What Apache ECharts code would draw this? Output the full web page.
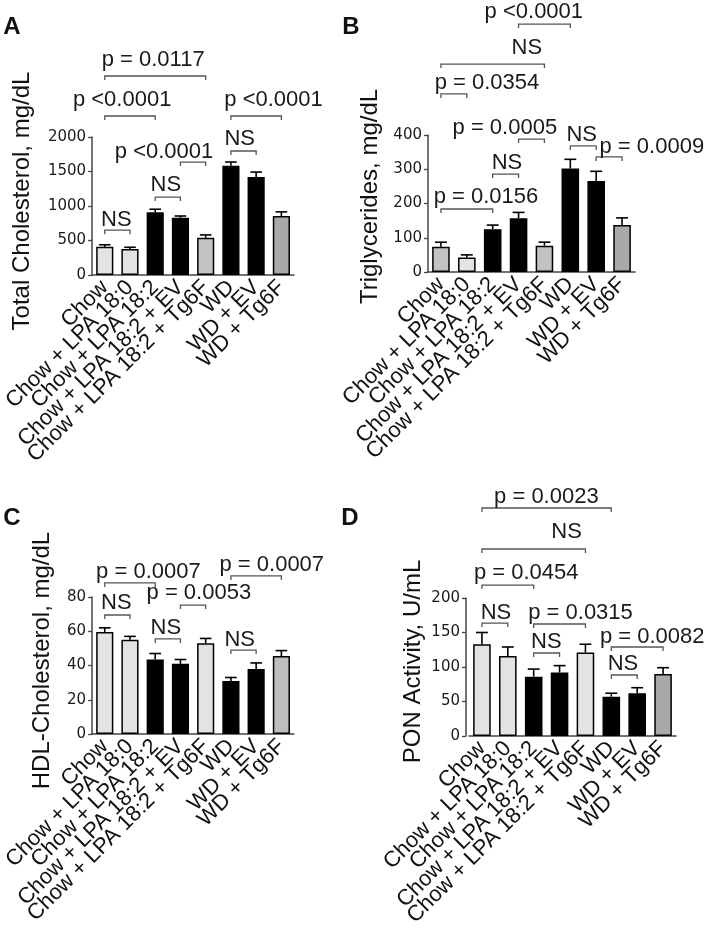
<!DOCTYPE html>
<html><head><meta charset="utf-8">
<script src="https://cdn.jsdelivr.net/npm/echarts@6/dist/echarts.min.js"></script>
<style>html,body{margin:0;padding:0;background:#fff}#c{width:711px;height:930px}</style>
</head><body><div id="c"></div>
<script>
const categories = ["Chow", "Chow + LPA 18:0", "Chow + LPA 18:2", "Chow + LPA 18:2 + EV", "Chow + LPA 18:2 + Tg6F", "WD", "WD + EV", "WD + Tg6F"];

// A: Total cholesterol (mg/dL)
const tcMean = [408, 377, 908, 830, 541, 1582, 1422, 855];
const tcSem  = [30, 25, 45, 25, 40, 55, 70, 60];
const tcTicks = [0, 500, 1000, 1500, 2000];
// brackets: [fromIdx, toIdx, bracketLevel, labelIdx, labelLevel, text]
const tcBrackets = [
  [0, 1, 650, 0.46, 797, "NS"],
  [2, 3, 1130, 2.42, 1304, "NS"],
  [3, 4, 1637, 2.35, 1782, "p <0.0001"],
  [5, 6, 1797, 5.35, 1971, "NS"],
  [0, 2, 2304, 0.69, 2536, "p <0.0001"],
  [5, 7, 2304, 6.69, 2536, "p <0.0001"],
  [0, 4, 2884, 1.92, 3116, "p = 0.0117"]
];

// B: Triglycerides (mg/dL)
const tgMean = [74, 42, 125, 157, 77, 302, 266, 137];
const tgSem  = [13, 8, 12, 17, 10, 27, 28, 21];
const tgTicks = [0, 100, 200, 300, 400];
const tgBrackets = [
  [0, 2, 184, 1.74, 219, "p = 0.0156"],
  [2, 3, 286, 2.55, 318, "NS"],
  [3, 4, 388, 2.47, 420, "p = 0.0005"],
  [5, 6, 368, 5.44, 400, "NS"],
  [6, 7, 336, 8.15, 365, "p = 0.0009"],
  [0, 1, 520, 1.78, 552, "p = 0.0354"],
  [0, 4, 607, 3.32, 654, "NS"],
  [3, 5, 724, 3.59, 759, "p <0.0001"]
];

// C: HDL-cholesterol (mg/dL)
const hdlMean = [59.5, 55, 43.5, 41, 53, 31, 38, 45.5];
const hdlSem  = [2.5, 2, 3.5, 2.5, 2.8, 2, 3.5, 3.2];
const hdlTicks = [0, 20, 40, 60, 80];
const hdlBrackets = [
  [0, 1, 69.5, 0.46, 76.5, "NS"],
  [2, 3, 55.5, 2.42, 61.9, "NS"],
  [3, 4, 75.3, 3.73, 82.3, "p = 0.0053"],
  [5, 6, 49, 5.35, 54.9, "NS"],
  [0, 2, 88.2, 1.73, 94.6, "p = 0.0007"],
  [5, 7, 92.3, 6.62, 98.7, "p = 0.0007"]
];

// D: PON activity (U/mL)
const ponMean = [133, 116, 86, 92, 121, 57, 62, 90];
const ponSem  = [17, 13, 11, 10, 12, 5, 8, 9];
const ponTicks = [0, 50, 100, 150, 200];
const ponBrackets = [
  [0, 1, 163.7, 0.54, 178, "NS"],
  [2, 3, 120.3, 2.49, 136, "NS"],
  [2, 4, 162.3, 3.81, 178, "p = 0.0315"],
  [5, 6, 88.4, 5.45, 104.3, "NS"],
  [5, 7, 129, 6.58, 143.5, "p = 0.0082"],
  [0, 2, 218.8, 1.71, 236, "p = 0.0454"],
  [0, 4, 271, 3.27, 295.6, "NS"],
  [0, 5, 330.4, 2.49, 346, "p = 0.0023"]
];

const LIGHT = '#e3e3e3', MID = '#c2c2c2', DARK = '#a9a9a9', BLACK = '#000000';
const tcColors  = [LIGHT, LIGHT, BLACK, BLACK, MID, BLACK, BLACK, DARK];
const tgColors  = [MID, LIGHT, BLACK, BLACK, MID, BLACK, BLACK, DARK];
const hdlColors = [LIGHT, LIGHT, BLACK, BLACK, LIGHT, BLACK, BLACK, '#bdbdbd'];
const ponColors = [LIGHT, LIGHT, BLACK, BLACK, LIGHT, BLACK, BLACK, DARK];

const panels = [
  {grid: {left: 86, top: 137, width: 208, height: 138}, ticks: tcTicks, title: 'Total Cholesterol, mg/dL', gap: 58, shift: 10, yOff: 0, mean: tcMean, sem: tcSem, colors: tcColors, br: tcBrackets},
  {grid: {left: 428, top: 135, width: 207, height: 137}, ticks: tgTicks, title: 'Triglycerides, mg/dL', gap: 46, shift: 14, yOff: 0, mean: tgMean, sem: tgSem, colors: tgColors, br: tgBrackets},
  {grid: {left: 86, top: 597, width: 208, height: 137}, ticks: hdlTicks, title: 'HDL-Cholesterol, mg/dL', gap: 38, shift: 10, yOff: 0, mean: hdlMean, sem: hdlSem, colors: hdlColors, br: hdlBrackets},
  {grid: {left: 469, top: 598, width: 207, height: 138}, ticks: ponTicks, title: 'PON Activity, U/mL', gap: 41, shift: 11, yOff: 3, mean: ponMean, sem: ponSem, colors: ponColors, br: ponBrackets}
];

const AX = '#444';
const FONT = '"Liberation Sans", Arial, sans-serif';

function errRender(mean, sem) {
  return function (params, api) {
    const i = params.dataIndex;
    const p0 = api.coord([i, mean[i]]);
    const p1 = api.coord([i, mean[i] + sem[i]]);
    const w = api.size([1, 0])[0] * 0.23;
    return {type: 'group', children: [
      {type: 'line', shape: {x1: p0[0], y1: p0[1], x2: p1[0], y2: p1[1]}, style: {stroke: '#000', lineWidth: 1.6}},
      {type: 'line', shape: {x1: p1[0] - w, y1: p1[1], x2: p1[0] + w, y2: p1[1]}, style: {stroke: '#000', lineWidth: 1.6}}
    ]};
  };
}

function bracketRender(list) {
  return function (params, api) {
    const b = list[params.dataIndex];
    const a0 = api.coord([0, b[2]]);
    const a1 = api.coord([1, b[2]]);
    const step = a1[0] - a0[0];
    const x1 = a0[0] + b[0] * step, x2 = a0[0] + b[1] * step, y = a0[1];
    const ty = api.coord([0, b[4]])[1];
    const tx = a0[0] + b[3] * step;
    return {type: 'group', children: [
      {type: 'polyline', shape: {points: [[x1, y + 4], [x1, y], [x2, y], [x2, y + 4]]}, style: {stroke: '#555', lineWidth: 1.3, fill: null}},
      {type: 'text', x: tx, y: ty, style: {text: b[5], fill: '#1a1a1a', font: '22px ' + FONT, align: 'center', verticalAlign: 'middle'}}
    ]};
  };
}

const option = {
  animation: false,
  backgroundColor: '#fff',
  grid: panels.map(p => Object.assign({containLabel: false}, p.grid)),
  xAxis: panels.map((p, k) => ({
    type: 'category', gridIndex: k, data: categories,
    axisLine: {lineStyle: {color: AX, width: 1.5}},
    axisTick: {alignWithLabel: true, length: 5, lineStyle: {color: AX, width: 1.3}},
    axisLabel: {interval: 0, rotate: 45, margin: 9, color: '#111', fontSize: 22, fontFamily: FONT}
  })),
  yAxis: panels.map((p, k) => ({
    type: 'value', gridIndex: k, min: p.ticks[0], max: p.ticks[p.ticks.length - 1],
    interval: p.ticks[1] - p.ticks[0], offset: p.yOff,
    name: p.title, nameLocation: 'middle', nameGap: p.gap,
    nameTextStyle: {fontSize: 24, color: '#111', fontFamily: FONT, padding: [0, 0, 0, p.shift]},
    splitLine: {show: false},
    axisLine: {show: true, lineStyle: {color: AX, width: 1.5}},
    axisTick: {show: true, length: 4, lineStyle: {color: AX, width: 1.3}},
    axisLabel: {margin: 6, color: '#1a1a1a', fontSize: 15, fontFamily: '"DejaVu Sans", sans-serif', formatter: v => String(v)}
  })),
  graphic: [
    {type: 'text', x: 12, y: 27, style: {text: 'A', font: 'bold 24px ' + FONT, fill: '#111', align: 'center', verticalAlign: 'middle'}},
    {type: 'text', x: 351, y: 27, style: {text: 'B', font: 'bold 24px ' + FONT, fill: '#111', align: 'center', verticalAlign: 'middle'}},
    {type: 'text', x: 12, y: 518, style: {text: 'C', font: 'bold 24px ' + FONT, fill: '#111', align: 'center', verticalAlign: 'middle'}},
    {type: 'text', x: 350, y: 518, style: {text: 'D', font: 'bold 24px ' + FONT, fill: '#111', align: 'center', verticalAlign: 'middle'}}
  ],
  series: []
};

panels.forEach((p, k) => {
  option.series.push({
    type: 'bar', xAxisIndex: k, yAxisIndex: k, barWidth: '68%',
    data: p.mean.map((v, i) => ({value: v, itemStyle: {color: p.colors[i]}})),
    itemStyle: {borderColor: '#000', borderWidth: 1.5}
  });
  option.series.push({
    type: 'custom', xAxisIndex: k, yAxisIndex: k, z: 3,
    data: p.mean.map((v, i) => [i, v]), encode: {x: 0, y: 1},
    renderItem: errRender(p.mean, p.sem)
  });
  option.series.push({
    type: 'custom', xAxisIndex: k, yAxisIndex: k, z: 4, clip: false,
    data: p.br.map(b => [b[0], b[2]]), encode: {x: 0, y: 1},
    renderItem: bracketRender(p.br)
  });
});

const chart = echarts.init(document.getElementById('c'), null, {renderer: 'canvas'});
chart.setOption(option);
</script>
</body></html>
